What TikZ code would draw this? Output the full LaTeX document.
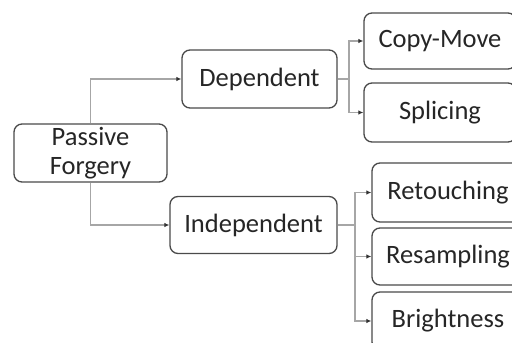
\documentclass[tikz,border=0pt]{standalone}
\usepackage{fontspec}
\setmainfont{Carlito}
\usetikzlibrary{arrows.meta}
\definecolor{boxline}{HTML}{4A4A4A}
\definecolor{conn}{HTML}{A6A6A6}
\tikzset{
  box/.style={draw=boxline, line width=1.3pt, rounded corners=8pt, fill=white,
    minimum width=152pt, minimum height=58pt, inner sep=0pt, align=center,
    font=\fontsize{26.5}{29}\selectfont, text=black!85},
  link/.style={draw=conn, line width=1.2pt, -{Latex[length=5pt,width=4.5pt,color=black!80]}},
  plain/.style={draw=conn, line width=1.2pt}
}
\begin{document}
\begin{tikzpicture}[x=1pt,y=-1pt]
\clip (0,0) rectangle (512,343);
\fill[white] (0,0) rectangle (512,343);
\node[box, minimum width=153pt] (pf) at (90.5,153) {Passive\\Forgery};
\node[box, minimum width=155pt] (dep) at (259.5,79) {Dependent};
\node[box, minimum width=167pt, minimum height=57pt] (ind) at (253.5,225) {Independent};
\node[box, minimum height=56pt] (cm) at (440,41) {Copy-Move};
\node[box, minimum height=59pt] (sp) at (440,112.5) {Splicing};
\node[box, minimum height=59pt] (re) at (448,192.5) {Retouching};
\node[box, minimum height=57pt] (rs) at (448,256.5) {Resampling};
\node[box] (br) at (448,321) {Brightness};
\draw[link] (pf.north) |- (dep.west);
\draw[link] (pf.south) |- (ind.west);
\coordinate (jd) at (349,79);
\coordinate (ji) at (355,225);
\draw[plain] (dep.east) -- (jd);
\draw[link] (jd) |- (cm.west);
\draw[link] (jd) |- (sp.west);
\draw[plain] (ind.east) -- (ji);
\draw[link] (ji) |- (re.west);
\draw[link] (ji) |- (rs.west);
\draw[link] (ji) |- (br.west);
\end{tikzpicture}
\end{document}
